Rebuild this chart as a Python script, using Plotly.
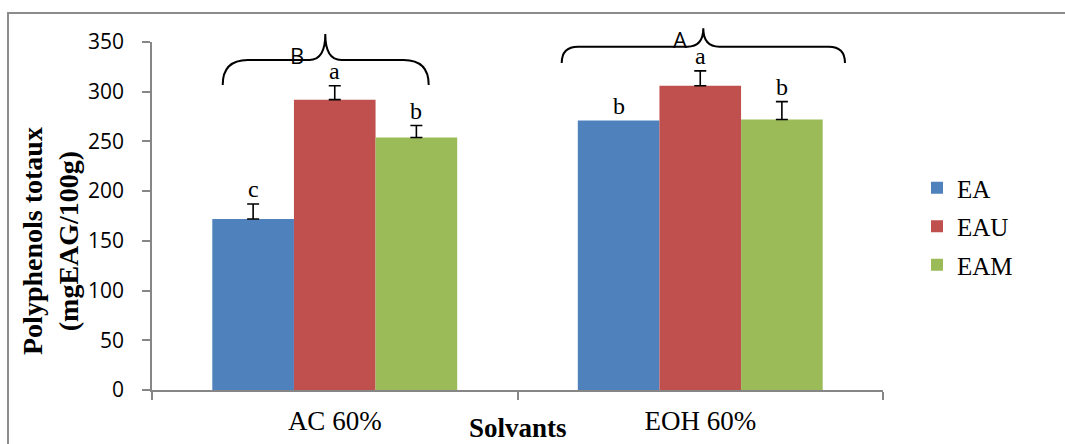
import numpy as np
import plotly.graph_objects as go

# ---- data ----
categories = ["AC 60%", "EOH 60%"]
series_names = ["EA", "EAU", "EAM"]
ea_values = [172, 271]
eau_values = [292, 306]
eam_values = [254, 272]
ea_err = [15, None]
eau_err = [14, 15]
eam_err = [12, 18]
ea_letters = ["c", "b"]
eau_letters = ["a", "a"]
eam_letters = ["b", "b"]
group_letters = ["B", "A"]
y_ticks = [0, 50, 100, 150, 200, 250, 300, 350]

colors = ["#4F81BD", "#C0504D", "#9BBB59"]
SERIF = "Liberation Serif, Times New Roman, serif"
SANS = "Open Sans, Calibri, sans-serif"
W, H = 1065, 444
L, R, T, B = 152, 1065 - 883, 42, 444 - 390
PW, PH = W - L - R, H - T - B

def px(x):
    return (x - L) / PW

def py(y):
    return (H - B - y) / PH

values = [ea_values, eau_values, eam_values]
errs = [ea_err, eau_err, eam_err]
letters = [ea_letters, eau_letters, eam_letters]
bargap = 0.33
bar_w = (1 - bargap) / 3

fig = go.Figure()
for i, name in enumerate(series_names):
    plus = np.array([np.nan if e is None else e for e in errs[i]], dtype=float)
    minus = np.array([np.nan if e is None else 0 for e in errs[i]], dtype=float)
    fig.add_trace(go.Bar(
        x=categories, y=values[i], name=name,
        marker=dict(color=colors[i], line=dict(width=0)),
        legendgroup=name,
        error_y=dict(type="data", symmetric=False, array=plus,
                     arrayminus=minus,
                     color="black", thickness=1.6, width=6),
    ))

annotations = []
for i in range(3):
    for j in range(len(categories)):
        top = values[i][j] + (errs[i][j] or 0)
        annotations.append(dict(
            x=j + (i - 1) * bar_w, y=top + 15, xref="x", yref="y",
            text=letters[i][j], showarrow=False,
            font=dict(family=SERIF, size=24, color="black"),
            xanchor="center", yanchor="middle"))

# y axis title
annotations.append(dict(
    x=px(50), y=py(241), xref="paper", yref="paper",
    text="<b>Polyphenols totaux</b><br><b>(mgEAG/100g)</b>",
    textangle=-90, showarrow=False, xanchor="center", yanchor="middle",
    font=dict(family=SERIF, size=28, color="black")))
# x axis title
annotations.append(dict(
    x=px(518), y=py(428), xref="paper", yref="paper",
    text="<b>Solvants</b>", showarrow=False, xanchor="center", yanchor="middle",
    font=dict(family=SERIF, size=27, color="black")))

# group braces
braces = [
    (222.7, 428.7, 85, 60, 34, 325.3),
    (561.7, 845, 63, 46.7, 28.3, 703.3),
]
shapes = []
for (x0, x1, yb, yh, yt, xc) in braces:
    r = yb - yh
    path = (f"M {px(x0)},{py(yb)} "
            f"Q {px(x0)},{py(yh)} {px(x0 + r)},{py(yh)} "
            f"L {px(xc - 16)},{py(yh)} "
            f"Q {px(xc)},{py(yh)} {px(xc)},{py(yt)} "
            f"Q {px(xc)},{py(yh)} {px(xc + 16)},{py(yh)} "
            f"L {px(x1 - r)},{py(yh)} "
            f"Q {px(x1)},{py(yh)} {px(x1)},{py(yb)}")
    shapes.append(dict(type="path", path=path, xref="paper", yref="paper",
                       line=dict(color="black", width=2)))
annotations.append(dict(x=px(297), y=py(55), xref="paper", yref="paper",
                        text=group_letters[0], showarrow=False,
                        xanchor="center", yanchor="middle",
                        font=dict(family=SANS, size=22, color="black")))
annotations.append(dict(x=px(680), y=py(39), xref="paper", yref="paper",
                        text=group_letters[1], showarrow=False,
                        xanchor="center", yanchor="middle",
                        font=dict(family=SANS, size=22, color="black")))

# outer border (left and top)
shapes.append(dict(type="line", xref="paper", yref="paper",
                   x0=px(8), x1=px(8), y0=py(13), y1=py(450),
                   line=dict(color="#8C8C8C", width=2)))
shapes.append(dict(type="line", xref="paper", yref="paper",
                   x0=px(7), x1=px(1070), y0=py(13), y1=py(13),
                   line=dict(color="#8C8C8C", width=2)))

fig.update_layout(
    width=W, height=H,
    margin=dict(l=L, r=R, t=T, b=B, pad=0, autoexpand=False),
    paper_bgcolor="white", plot_bgcolor="white",
    barmode="group", bargap=bargap, bargroupgap=0,
    showlegend=True,
    legend=dict(x=px(917), y=py(165), xanchor="left", yanchor="top",
                font=dict(family=SERIF, size=25, color="black"),
                tracegroupgap=3,
                bgcolor="rgba(0,0,0,0)"),
    annotations=annotations,
    shapes=shapes,
)
fig.update_xaxes(
    type="category", showline=True, linecolor="#868686", linewidth=1.5,
    ticks="outside", tickson="boundaries", ticklen=8, tickcolor="#868686",
    tickwidth=1.5, showgrid=False, zeroline=False, automargin=False,
    tickfont=dict(family=SERIF, size=27, color="black"),
    ticklabelstandoff=6,
)
fig.update_yaxes(
    range=[0, 350], tickvals=y_ticks, showline=True, linecolor="#868686",
    linewidth=1.5, ticks="outside", ticklen=8, tickcolor="#868686",
    tickwidth=1.5, showgrid=False, zeroline=False, automargin=False,
    tickfont=dict(family=SANS, size=21, color="black"),
    ticklabelstandoff=14,
)
fig.write_html("out.html")
